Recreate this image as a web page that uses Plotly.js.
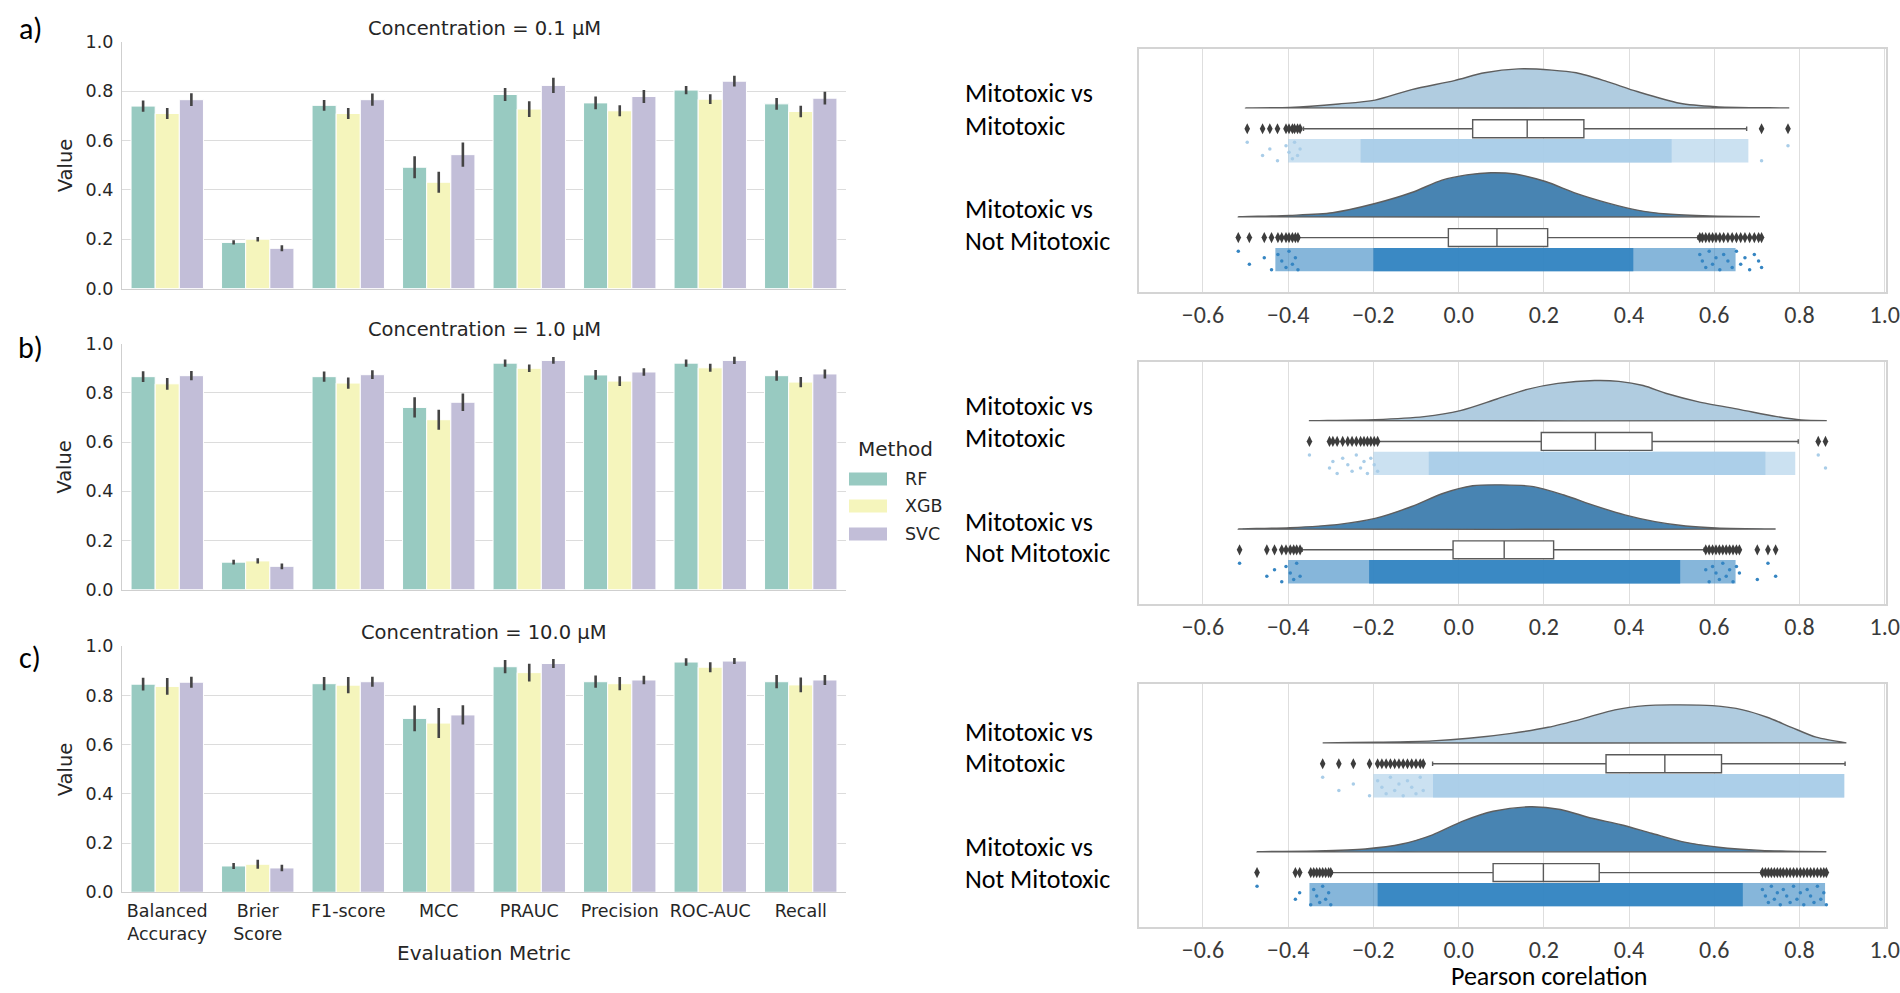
<!DOCTYPE html>
<html>
<head>
<meta charset="utf-8">
<script src="https://cdn.plot.ly/plotly-3.0.1.min.js"></script>
<style>html,body{margin:0;padding:0;background:#fff;}#chart{width:1900px;height:993px;}</style>
</head>
<body>
<div id="chart"></div>
<script>
// ---------------- DATA ----------------
const metrics = ['Balanced Accuracy','Brier Score','F1-score','MCC','PRAUC','Precision','ROC-AUC','Recall'];
const metricLabels = ['Balanced<br>Accuracy','Brier<br>Score','F1-score','MCC','PRAUC','Precision','ROC-AUC','Recall'];
const methods = ['RF','XGB','SVC'];
const concTitles = ['Concentration = 0.1 µM','Concentration = 1.0 µM','Concentration = 10.0 µM'];
const panelLetters = ['a)','b)','c)'];

// Concentration 0.1 µM
const a_RF      = [0.740,0.187,0.743,0.492,0.787,0.753,0.805,0.749];
const a_RF_err  = [0.023,0.009,0.022,0.045,0.026,0.026,0.017,0.024];
const a_XGB     = [0.710,0.200,0.710,0.431,0.728,0.721,0.768,0.718];
const a_XGB_err = [0.022,0.009,0.022,0.043,0.032,0.022,0.020,0.023];
const a_SVC     = [0.766,0.163,0.766,0.543,0.824,0.779,0.841,0.772];
const a_SVC_err = [0.026,0.012,0.025,0.049,0.031,0.026,0.022,0.026];
// Concentration 1.0 µM
const b_RF      = [0.866,0.112,0.866,0.741,0.921,0.873,0.921,0.870];
const b_RF_err  = [0.022,0.010,0.021,0.041,0.015,0.020,0.015,0.021];
const b_XGB     = [0.837,0.117,0.840,0.691,0.900,0.848,0.902,0.844];
const b_XGB_err = [0.024,0.011,0.023,0.041,0.015,0.020,0.016,0.021];
const b_SVC     = [0.870,0.095,0.874,0.762,0.932,0.885,0.932,0.877];
const b_SVC_err = [0.019,0.012,0.018,0.036,0.014,0.015,0.015,0.018];
// Concentration 10.0 µM
const c_RF      = [0.846,0.107,0.848,0.707,0.917,0.856,0.936,0.856];
const c_RF_err  = [0.026,0.012,0.027,0.052,0.027,0.025,0.015,0.027];
const c_XGB     = [0.837,0.114,0.842,0.688,0.893,0.848,0.915,0.843];
const c_XGB_err = [0.034,0.018,0.033,0.061,0.036,0.027,0.020,0.030];
const c_SVC     = [0.854,0.099,0.856,0.721,0.930,0.863,0.940,0.863];
const c_SVC_err = [0.022,0.013,0.020,0.039,0.018,0.017,0.012,0.020];

// Raincloud panels: group labels
const groupNames = [['Mitotoxic vs','Mitotoxic'],['Mitotoxic vs','Not Mitotoxic']];
const xTickVals = [-0.6,-0.4,-0.2,0.0,0.2,0.4,0.6,0.8,1.0];

// Panel 1 - Mitotoxic vs Mitotoxic
const p1g1_densX = [-0.5,-0.396,-0.281,-0.196,-0.11,-0.01,0.061,0.14,0.219,0.276,0.347,0.419,0.519,0.604,0.69,0.776];
const p1g1_dens  = [0,0.01,0.10,0.20,0.47,0.70,0.90,1.0,0.97,0.90,0.68,0.42,0.12,0.03,0.005,0];
const p1g1_box   = [0.033,0.161,0.294,-0.364,0.676]; // q1, median, q3, lower whisker, upper whisker
const p1g1_out   = [-0.496,-0.46,-0.443,-0.425,-0.405,-0.398,-0.39,-0.385,-0.378,-0.372,0.711,0.773];
const p1g1_strip = [-0.40,-0.23,0.50,0.68]; // sparse start, dense start, dense end, sparse end
// Panel 1 - Mitotoxic vs Not Mitotoxic
const p1g2_densX = [-0.517,-0.396,-0.296,-0.196,-0.11,-0.039,0.019,0.076,0.133,0.204,0.276,0.347,0.419,0.49,0.59,0.707];
const p1g2_dens  = [0,0.03,0.09,0.30,0.55,0.83,0.95,1.0,0.97,0.80,0.53,0.32,0.15,0.06,0.015,0];
const p1g2_box   = [-0.024,0.09,0.209,-0.374,0.561];
const p1g2_out   = [-0.517,-0.491,-0.456,-0.439,-0.424,-0.415,-0.405,-0.398,-0.39,-0.383,-0.377,
                    0.566,0.572,0.58,0.588,0.596,0.604,0.613,0.622,0.632,0.642,0.652,0.662,0.672,0.683,0.694,0.704,0.711];
const p1g2_strip = [-0.43,-0.20,0.41,0.65];

// Panel 2
const p2g1_densX = [-0.35,-0.196,-0.081,0.004,0.09,0.161,0.233,0.319,0.376,0.433,0.49,0.561,0.661,0.747,0.804,0.864];
const p2g1_dens  = [0,0.025,0.10,0.25,0.54,0.78,0.93,1.0,0.98,0.875,0.67,0.475,0.275,0.10,0.017,0];
const p2g1_box   = [0.194,0.321,0.454,-0.189,0.797];
const p2g1_out   = [-0.35,-0.303,-0.295,-0.285,-0.272,-0.26,-0.25,-0.24,-0.23,-0.222,-0.214,-0.206,-0.198,-0.19,0.844,0.861];
const p2g1_strip = [-0.20,-0.07,0.72,0.79];
const p2g2_densX = [-0.517,-0.396,-0.281,-0.196,-0.11,-0.039,0.033,0.104,0.176,0.247,0.319,0.39,0.461,0.533,0.604,0.744];
const p2g2_dens  = [0,0.03,0.106,0.24,0.51,0.80,0.98,1.0,0.96,0.77,0.53,0.32,0.167,0.068,0.023,0];
const p2g2_box   = [-0.013,0.107,0.223,-0.367,0.576];
const p2g2_out   = [-0.514,-0.45,-0.432,-0.415,-0.405,-0.395,-0.387,-0.38,-0.372,
                    0.58,0.588,0.596,0.604,0.612,0.62,0.628,0.636,0.644,0.652,0.659,0.701,0.726,0.744];
const p2g2_strip = [-0.40,-0.21,0.52,0.65];

// Panel 3
const p3g1_densX = [-0.319,-0.19,-0.061,0.024,0.124,0.21,0.296,0.367,0.439,0.496,0.596,0.667,0.724,0.781,0.839,0.91];
const p3g1_dens  = [0,0.018,0.053,0.12,0.25,0.41,0.65,0.87,0.98,1.0,0.98,0.87,0.675,0.41,0.15,0];
const p3g1_box   = [0.346,0.484,0.617,-0.061,0.907];
const p3g1_out   = [-0.319,-0.281,-0.247,-0.209,-0.19,-0.18,-0.17,-0.16,-0.15,-0.14,-0.13,-0.12,-0.11,-0.10,-0.09,-0.083];
const p3g1_strip = [-0.20,-0.06,0.905,0.905];
const p3g2_densX = [-0.473,-0.333,-0.219,-0.133,-0.061,0.01,0.081,0.167,0.239,0.31,0.381,0.453,0.524,0.61,0.71,0.863];
const p3g2_dens  = [0,0.015,0.06,0.17,0.375,0.68,0.90,1.0,0.94,0.75,0.60,0.41,0.225,0.10,0.03,0];
const p3g2_box   = [0.081,0.199,0.33,-0.297,0.71];
const p3g2_out   = [-0.473,-0.383,-0.373,-0.347,-0.34,-0.333,-0.326,-0.319,-0.312,-0.305,-0.30,
                    0.713,0.72,0.727,0.734,0.741,0.748,0.755,0.762,0.77,0.778,0.786,0.794,0.802,0.81,0.818,0.826,0.834,0.842,0.85,0.857,0.863];
const p3g2_strip = [-0.35,-0.19,0.667,0.86];

// ---------------- STYLE / LAYOUT HELPERS ----------------
const W = 1900, H = 993;
const px = x => x / W;
const py = y => 1 - y / H;
const barColors = ['#98cac1','#f5f5bc','#c2bed8'];
const violinColors = ['#b0cce0','#4884b2'];
const stripColors = ['#a9cde8','#3585c2'];
const leftFont = 'DejaVu Sans, sans-serif';
const rightFont = 'Carlito, Lato, sans-serif';
const txt = '#262626';

const leftPanelsPx = [[42,288.5],[343.7,589.7],[646.3,892.3]];
const rightPanelsPx = [[49,292],[362,604],[684,927]];
const violinHeights = [[0.358,0.404],[0.37,0.407],[0.349,0.413]];
const violinBase = -0.192;
const stripLo = 0.095, stripHi = 0.31;

const barData = [
  [[a_RF,a_RF_err],[a_XGB,a_XGB_err],[a_SVC,a_SVC_err]],
  [[b_RF,b_RF_err],[b_XGB,b_XGB_err],[b_SVC,b_SVC_err]],
  [[c_RF,c_RF_err],[c_XGB,c_XGB_err],[c_SVC,c_SVC_err]]
];
const rainData = [
  [[p1g1_densX,p1g1_dens,p1g1_box,p1g1_out,p1g1_strip],[p1g2_densX,p1g2_dens,p1g2_box,p1g2_out,p1g2_strip]],
  [[p2g1_densX,p2g1_dens,p2g1_box,p2g1_out,p2g1_strip],[p2g2_densX,p2g2_dens,p2g2_box,p2g2_out,p2g2_strip]],
  [[p3g1_densX,p3g1_dens,p3g1_box,p3g1_out,p3g1_strip],[p3g2_densX,p3g2_dens,p3g2_box,p3g2_out,p3g2_strip]]
];

const traces = [];
const layout = {
  width: W, height: H,
  margin: {l:0,r:0,t:0,b:0},
  paper_bgcolor: '#ffffff', plot_bgcolor: 'rgba(0,0,0,0)',
  showlegend: false,
  barmode: 'group', bargap: 0.2, bargroupgap: 0,
  annotations: [], shapes: []
};

// ---- Left bar panels ----
barData.forEach((panel, p) => {
  const xa = 'x' + (p + 1), ya = 'y' + (p + 1);
  panel.forEach((m, k) => {
    traces.push({
      type: 'bar', name: methods[k], x: metrics, y: m[0],
      xaxis: xa, yaxis: ya,
      marker: {color: barColors[k], line: {color: '#ffffff', width: 1}},
      error_y: {type: 'data', array: m[1], visible: true, color: '#444444', thickness: 2.6, width: 0},
      hoverinfo: 'x+y'
    });
  });
  const [top, bot] = leftPanelsPx[p];
  layout['xaxis' + (p + 1)] = {
    domain: [px(122), px(846)], anchor: ya, type: 'category',
    categoryorder: 'array', categoryarray: metrics, range: [-0.5, 7.5],
    showgrid: false, zeroline: false, showline: true, linecolor: '#cfcfcf', linewidth: 1.2,
    ticks: '', showticklabels: p === 2, tickvals: metrics, ticktext: metricLabels,
    tickfont: {family: leftFont, size: 17.5, color: txt}, ticklabelstandoff: 3
  };
  layout['yaxis' + (p + 1)] = {
    domain: [py(bot), py(top)], anchor: xa, range: [0, 1],
    tickvals: [0,0.2,0.4,0.6,0.8,1.0], tickformat: '.1f',
    showgrid: true, gridcolor: '#dcdcdc', gridwidth: 1.2, zeroline: false,
    showline: true, linecolor: '#cfcfcf', linewidth: 1.2, ticks: '',
    tickfont: {family: leftFont, size: 17.5, color: txt}, ticklabelstandoff: 4
  };
  layout.annotations.push({
    text: concTitles[p], xref: 'paper', yref: 'paper', x: px(484), y: py(top - 14),
    xanchor: 'center', yanchor: 'middle', showarrow: false,
    font: {family: leftFont, size: 19.5, color: txt}
  });
  layout.annotations.push({
    text: 'Value', xref: 'paper', yref: 'paper', x: px(65), y: py((top + bot) / 2),
    xanchor: 'center', yanchor: 'middle', showarrow: false, textangle: -90,
    font: {family: leftFont, size: 19.5, color: txt}
  });
  layout.annotations.push({
    text: panelLetters[p], xref: 'paper', yref: 'paper', x: px(30), y: py([28, 348, 657][p]),
    xanchor: 'center', yanchor: 'middle', showarrow: false,
    font: {family: rightFont, size: 30, color: '#000000'}
  });
});
layout.annotations.push({
  text: 'Evaluation Metric', xref: 'paper', yref: 'paper', x: px(484), y: py(953),
  xanchor: 'center', yanchor: 'middle', showarrow: false,
  font: {family: leftFont, size: 20, color: txt}
});
// manual legend
layout.annotations.push({
  text: 'Method', xref: 'paper', yref: 'paper', x: px(856), y: py(449),
  xanchor: 'left', yanchor: 'middle', showarrow: false,
  font: {family: leftFont, size: 20, color: txt}
});
methods.forEach((m, k) => {
  const cy = [479, 506, 534][k];
  layout.shapes.push({type: 'rect', xref: 'paper', yref: 'paper',
    x0: px(849), x1: px(887), y0: py(cy + 6.5), y1: py(cy - 6.5),
    fillcolor: barColors[k], line: {width: 0}});
  layout.annotations.push({
    text: m, xref: 'paper', yref: 'paper', x: px(903), y: py(cy),
    xanchor: 'left', yanchor: 'middle', showarrow: false,
    font: {family: leftFont, size: 17.5, color: txt}
  });
});

// ---- Right raincloud panels ----
const labelYs = [[93,126,209,241],[406,438,522,553],[732,763,847,879]];
const jitter = [0.03, 0.15, 0.09, 0.2, 0.06, 0.12, 0.18];
rainData.forEach((panel, p) => {
  const n = p + 4, xa = 'x' + n, ya = 'y' + n;
  panel.forEach((g, gi) => {
    const [dx, dd, bx, out, st] = g;
    const col = stripColors[gi];
    // strip: sparse tails then dense core
    traces.push({type: 'scatter', mode: 'lines', xaxis: xa, yaxis: ya,
      x: [st[0], st[3], st[3], st[0], st[0]],
      y: [gi + stripLo, gi + stripLo, gi + stripHi, gi + stripHi, gi + stripLo],
      fill: 'toself', fillcolor: col, opacity: 0.6, line: {width: 0}, hoverinfo: 'skip'});
    traces.push({type: 'scatter', mode: 'lines', xaxis: xa, yaxis: ya,
      x: [st[1], st[2], st[2], st[1], st[1]],
      y: [gi + stripLo, gi + stripLo, gi + stripHi, gi + stripHi, gi + stripLo],
      fill: 'toself', fillcolor: col, opacity: 0.93, line: {width: 0}, hoverinfo: 'skip'});
    traces.push({type: 'scatter', mode: 'markers', xaxis: xa, yaxis: ya,
      x: out, y: out.map((v, i) => gi + stripLo + jitter[i % jitter.length]),
      marker: {color: col, size: 3.5}, hoverinfo: 'x'});
    // half violin
    const h = violinHeights[p][gi];
    const vx = dx.concat([dx[dx.length - 1], dx[0]]);
    const vy = dd.map(d => gi + violinBase - h * d).concat([gi + violinBase, gi + violinBase]);
    traces.push({type: 'scatter', mode: 'lines', xaxis: xa, yaxis: ya,
      x: vx, y: vy, fill: 'toself', fillcolor: violinColors[gi],
      line: {color: '#5e5e5e', width: 1.4, shape: 'spline', smoothing: 0.8}, hoverinfo: 'skip'});
    // box
    traces.push({type: 'box', orientation: 'h', xaxis: xa, yaxis: ya,
      y: [gi], q1: [bx[0]], median: [bx[1]], q3: [bx[2]], lowerfence: [bx[3]], upperfence: [bx[4]],
      width: 0.165, whiskerwidth: 0.25, fillcolor: '#ffffff', boxpoints: false,
      line: {color: '#5a5a5a', width: 1.4}, hoverinfo: 'x'});
    // outliers (fliers)
    traces.push({type: 'scatter', mode: 'markers', xaxis: xa, yaxis: ya,
      x: out, y: out.map(() => gi),
      marker: {symbol: 'diamond-tall', color: '#3d3d3d', size: 8}, hoverinfo: 'x'});
    // text labels
    [0, 1].forEach(li => {
      layout.annotations.push({
        text: groupNames[gi][li], xref: 'paper', yref: 'paper', x: px(963),
        y: py(labelYs[p][gi * 2 + li]), xanchor: 'left', yanchor: 'middle', showarrow: false,
        font: {family: rightFont, size: 26, color: '#000000'}
      });
    });
  });
  const [top, bot] = rightPanelsPx[p];
  layout['xaxis' + n] = {
    domain: [px(1139), px(1886)], anchor: ya, range: [-0.75, 1.003],
    tickvals: xTickVals, tickformat: '.1f',
    showgrid: true, gridcolor: '#dedede', gridwidth: 1, zeroline: false,
    showline: true, mirror: true, linecolor: '#d4d4d4', linewidth: 1.5, ticks: '',
    tickfont: {family: rightFont, size: 24, color: '#3a3a3a'}, ticklabelstandoff: 0
  };
  layout['yaxis' + n] = {
    domain: [py(bot), py(top)], anchor: xa, range: [1.5, -0.733],
    showgrid: false, zeroline: false, showticklabels: false, ticks: '',
    showline: true, mirror: true, linecolor: '#d4d4d4', linewidth: 1.5
  };
});
layout.annotations.push({
  text: 'Pearson corelation', xref: 'paper', yref: 'paper', x: px(1549), y: 0,
  xanchor: 'center', yanchor: 'bottom', showarrow: false, borderpad: 0,
  font: {family: rightFont, size: 26, color: '#000000'}
});

Plotly.newPlot('chart', traces, layout, {displayModeBar: false, responsive: false});
</script>
</body>
</html>
